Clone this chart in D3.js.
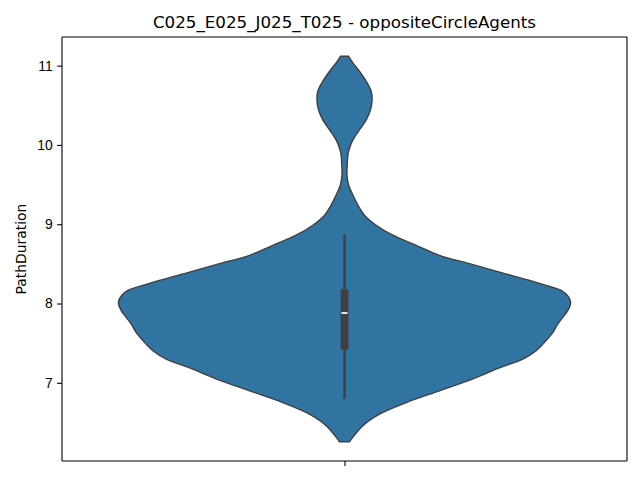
<!DOCTYPE html>
<html>
<head>
<meta charset="utf-8">
<script src="https://cdn.jsdelivr.net/npm/d3@7"></script>
<style>
  body { margin: 0; background: #fff; }
  svg { font-family: "DejaVu Sans", sans-serif; }
  .tick text { font-size: 13.9px; fill: #000; }
  .tick line, .domain { stroke: #000; stroke-width: 1.1px; }
</style>
</head>
<body>
<script>
// chart data
const categories = [""];
const yTicks = [7, 8, 9, 10, 11];
// kde outline: value and relative half width (1 = widest)
const densityValues = [11.118, 11.035, 10.929, 10.802, 10.676, 10.570, 10.443, 10.316, 10.190, 10.063,
  9.958, 9.873, 9.747, 9.620, 9.494, 9.367, 9.241, 9.114, 8.987, 8.861, 8.734, 8.608, 8.503, 8.396,
  8.291, 8.228, 8.165, 8.059, 7.996, 7.911, 7.826, 7.742, 7.636, 7.532, 7.405, 7.300, 7.194, 7.047,
  6.899, 6.751, 6.604, 6.456, 6.306, 6.257];
const densityWidths = [0.018, 0.037, 0.066, 0.096, 0.118, 0.122, 0.115, 0.096, 0.066, 0.037,
  0.022, 0.015, 0.012, 0.011, 0.018, 0.037, 0.059, 0.088, 0.140, 0.214, 0.317, 0.420, 0.553, 0.686,
  0.819, 0.892, 0.959, 0.996, 1.000, 0.988, 0.966, 0.944, 0.922, 0.892, 0.848, 0.789, 0.690, 0.566,
  0.420, 0.274, 0.155, 0.080, 0.035, 0.022];
// whisker low, q1, median, q3, whisker high
const boxStats = [6.80, 7.42, 7.88, 8.18, 8.87];

const W = 640, H = 480;
const margin = {top: 37, right: 13, bottom: 19, left: 62};

const svg = d3.select("body").append("svg")
  .attr("width", W).attr("height", H);

const x = d3.scaleLinear().domain([-0.5, 0.5]).range([margin.left, W - margin.right]);
const y = d3.scaleLinear().domain([6.014, 11.361]).range([H - margin.bottom, margin.top]);
const halfWidth = 0.4;

const profile = densityValues.map((v, i) => ({v: v, w: densityWidths[i]}));

categories.forEach((c, ci) => {
  const area = d3.area()
    .y(d => y(d.v))
    .x0(d => x(ci - d.w * halfWidth))
    .x1(d => x(ci + d.w * halfWidth))
    .curve(d3.curveCatmullRom);

  svg.append("path")
    .datum(profile)
    .attr("d", area)
    .attr("fill", "#3274a1")
    .attr("stroke", "#3f3f3f")
    .attr("stroke-width", 1.4);

  // inner box
  svg.append("line")
    .attr("x1", x(ci)).attr("x2", x(ci))
    .attr("y1", y(boxStats[0])).attr("y2", y(boxStats[4]))
    .attr("stroke", "#3f3f3f").attr("stroke-width", 2.4);
  svg.append("rect")
    .attr("x", x(ci) - 3.9).attr("width", 7.8)
    .attr("y", y(boxStats[3])).attr("height", y(boxStats[1]) - y(boxStats[3]))
    .attr("fill", "#3f3f3f");
  svg.append("rect")
    .attr("x", x(ci) - 3).attr("width", 6)
    .attr("y", y(boxStats[2]) - 1).attr("height", 2)
    .attr("fill", "#e8e8e8");
});

// axes
svg.append("g")
  .attr("transform", "translate(" + margin.left + ",0)")
  .call(d3.axisLeft(y).tickValues(yTicks).tickSize(4.9).tickPadding(4.5).tickFormat(d3.format("d")))
  .call(g => g.select(".domain").attr("d", "M0," + margin.top + "V" + (H - margin.bottom)));

svg.append("g")
  .attr("transform", "translate(0," + (H - margin.bottom) + ")")
  .call(d3.axisBottom(x).tickValues(categories.map((c, i) => i)).tickSize(4.9).tickFormat((d, i) => categories[i]))
  .call(g => g.select(".domain").attr("d", "M" + margin.left + ",0H" + (W - margin.right)));

svg.append("line")
  .attr("x1", margin.left).attr("x2", W - margin.right)
  .attr("y1", margin.top).attr("y2", margin.top)
  .attr("stroke", "#000").attr("stroke-width", 1.1);
svg.append("line")
  .attr("x1", W - margin.right).attr("x2", W - margin.right)
  .attr("y1", margin.top).attr("y2", H - margin.bottom)
  .attr("stroke", "#000").attr("stroke-width", 1.1);

svg.selectAll(".domain").attr("fill", "none");

// title and labels
svg.append("text")
  .attr("x", (margin.left + W - margin.right) / 2)
  .attr("y", 28)
  .attr("text-anchor", "middle")
  .style("font-size", "16.7px")
  .text("C025_E025_J025_T025 - oppositeCircleAgents");

svg.append("text")
  .attr("transform", "translate(26," + ((margin.top + H - margin.bottom) / 2) + ") rotate(-90)")
  .attr("text-anchor", "middle")
  .style("font-size", "13.9px")
  .text("PathDuration");
</script>
</body>
</html>
